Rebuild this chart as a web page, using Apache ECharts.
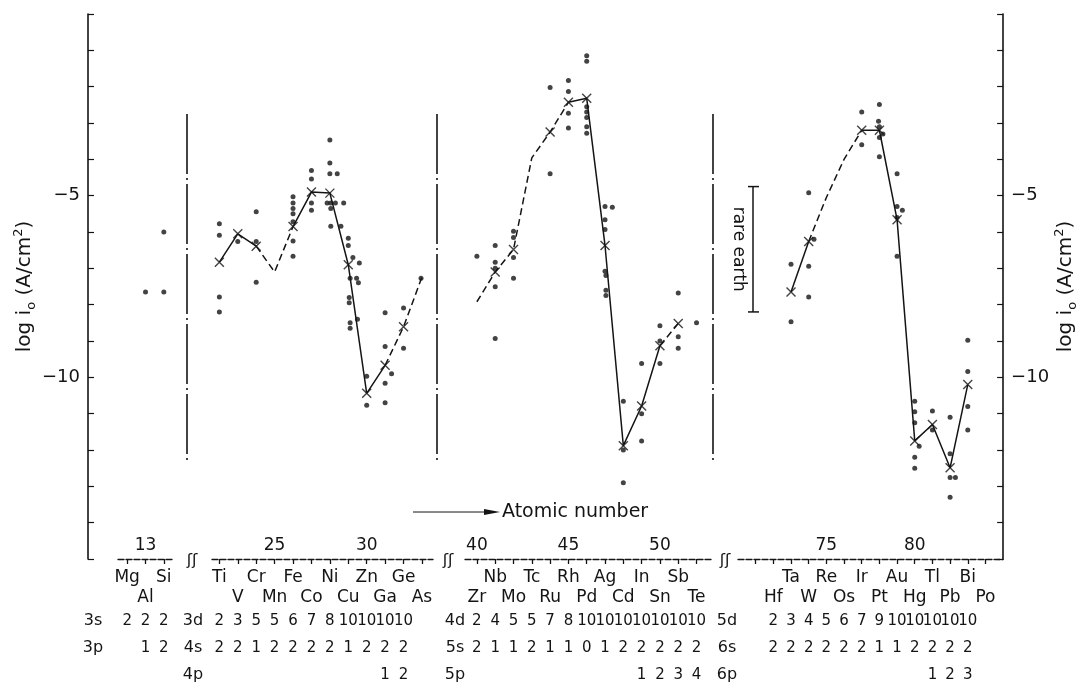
<!DOCTYPE html>
<html>
<head>
<meta charset="utf-8">
<title>log i0 vs atomic number</title>
<script src="https://cdn.jsdelivr.net/npm/echarts@6.0.0/dist/echarts.min.js"></script>
<style>
  html, body { margin: 0; background: #fff; }
  #chart { width: 1080px; height: 684px; }
</style>
</head>
<body>
<div id="chart"></div>
<script>
// ---- values ----

// period 3
const p3Z = [12, 13, 14]
const p3Names = ['Mg', 'Al', 'Si']
const p3Mean = [null, null, null]
const p3Marked = [0, 0, 0]
const p3Dashed = [0, 0]
const p3Dots = [[13, -7.65], [14, -7.65], [14, -6.0]]
const p3Config = [[2, 2, 2], [null, 1, 2]]            // 3s, 3p
const p3Ticks = [12, 13, 14]
const p3TickLabels = [13]

// period 4
const p4Z = [22, 23, 24, 25, 26, 27, 28, 29, 30, 31, 32, 33]
const p4Names = ['Ti', 'V', 'Cr', 'Mn', 'Fe', 'Co', 'Ni', 'Cu', 'Zn', 'Ga', 'Ge', 'As']
const p4Mean = [-6.83, -6.05, -6.39, -7.1, -5.85, -4.9, -4.93, -6.9, -10.44, -9.67, -8.61, -7.24]
const p4Marked = [1, 1, 1, 0, 1, 1, 1, 1, 1, 1, 1, 0]
const p4Dashed = [0, 0, 1, 1, 0, 0, 0, 0, 0, 1, 1]
const p4Dots = [
  [22, -5.77], [22, -6.09], [22, -7.79], [22, -8.2],
  [23, -6.26],
  [24, -5.44], [24, -6.26], [24, -7.38],
  [26, -5.03], [26, -5.2], [26, -5.35], [26, -5.5], [26, -5.72], [26, -6.25], [26, -6.67],
  [27, -4.31], [27, -4.54], [27, -5.2], [27, -5.4],
  [28, -3.47], [28, -4.1], [28, -4.4], [28.4, -4.4], [27.85, -5.2], [28.05, -5.2], [28.3, -5.2], [28.75, -5.2],
  [28.05, -5.35], [28.05, -5.84], [28.6, -5.84],
  [29, -6.17], [29, -6.37], [29.25, -6.7], [29.6, -6.85], [29.1, -7.27], [29.45, -7.27], [29.55, -7.4],
  [29.05, -7.8], [29.05, -7.95], [29.1, -8.5], [29.5, -8.4], [29.1, -8.65],
  [30, -9.97], [30, -10.77],
  [31, -8.22], [31, -9.15], [31.35, -9.9], [31, -10.16], [31, -10.7],
  [32, -8.09], [32, -9.2],
  [32.95, -7.27]
]
const p4Config = [
  [2, 3, 5, 5, 6, 7, 8, 10, 10, 10, 10, null],          // 3d
  [2, 2, 1, 2, 2, 2, 2, 1, 2, 2, 2, null],              // 4s
  [null, null, null, null, null, null, null, null, null, 1, 2, null]  // 4p
]
const p4Ticks = [22, 23, 24, 25, 26, 27, 28, 29, 30, 31, 32, 33]
const p4TickLabels = [25, 30]

// period 5
const p5Z = [40, 41, 42, 43, 44, 45, 46, 47, 48, 49, 50, 51, 52]
const p5Names = ['Zr', 'Nb', 'Mo', 'Tc', 'Ru', 'Rh', 'Pd', 'Ag', 'Cd', 'In', 'Sn', 'Sb', 'Te']
const p5Mean = [-7.92, -7.1, -6.48, -3.96, -3.25, -2.43, -2.32, -6.37, -11.88, -10.79, -9.13, -8.52, null]
const p5Marked = [0, 1, 1, 0, 1, 1, 1, 1, 1, 1, 1, 1, 0]
const p5Dashed = [1, 1, 1, 1, 1, 0, 0, 0, 0, 0, 1, 0]
const p5Dots = [
  [40, -6.67],
  [41, -6.37], [41, -6.83], [41, -7.0], [41, -7.51], [41, -8.93],
  [42, -5.98], [42, -6.15], [42, -6.7], [42, -7.27],
  [44, -2.02], [44, -4.4],
  [45, -1.83], [45, -2.13], [45, -2.73], [45, -3.14],
  [46, -1.15], [46, -1.3], [46, -2.55], [46, -2.7], [46, -2.85], [46, -3.1], [46, -3.28],
  [47, -5.3], [47.4, -5.32], [47, -5.66], [47, -5.93], [47, -7.08], [47.05, -7.2], [47.05, -7.6], [47.05, -7.75],
  [48, -10.66], [48, -12.0], [48, -12.9],
  [49, -9.62], [49, -11.0], [49, -11.75],
  [50, -8.58], [50, -9.0], [50, -9.62],
  [51, -7.68], [51, -8.88], [51, -9.2],
  [52, -8.5]
]
const p5Config = [
  [2, 4, 5, 5, 7, 8, 10, 10, 10, 10, 10, 10, 10],      // 4d
  [2, 1, 1, 2, 1, 1, 0, 1, 2, 2, 2, 2, 2],             // 5s
  [null, null, null, null, null, null, null, null, null, 1, 2, 3, 4]  // 5p
]
const p5Ticks = [40, 41, 42, 43, 44, 45, 46, 47, 48, 49, 50, 51, 52]
const p5TickLabels = [40, 45, 50]

// period 6
const p6Z = [72, 73, 74, 75, 76, 77, 78, 79, 80, 81, 82, 83, 84]
const p6Names = ['Hf', 'Ta', 'W', 'Re', 'Os', 'Ir', 'Pt', 'Au', 'Hg', 'Tl', 'Pb', 'Bi', 'Po']
const p6Mean = [null, -7.65, -6.26, -5.05, -4.0, -3.2, -3.2, -5.66, -11.75, -11.3, -12.49, -10.2, null]
const p6Marked = [0, 1, 1, 0, 0, 1, 1, 1, 1, 1, 1, 1, 0]
const p6Dashed = [0, 0, 1, 1, 1, 0, 0, 0, 0, 0, 0, 0]
const p6Dots = [
  [73, -6.89], [73, -8.47],
  [74, -4.92], [74.3, -6.2], [74, -6.94], [74, -7.79],
  [77, -2.7], [77, -3.6],
  [78, -2.49], [77.95, -2.95], [78, -3.1], [78.2, -3.3], [78, -3.4], [78, -3.93],
  [79, -4.4], [79, -5.3], [79.3, -5.4], [79, -5.6], [79, -6.67],
  [80, -10.66], [80, -10.95], [80, -11.25], [80.25, -11.9], [80, -12.2], [80, -12.5],
  [81, -10.93], [81, -11.45],
  [82, -11.1], [82, -12.1], [82, -12.76], [82.3, -12.76], [82, -13.3],
  [83, -8.98], [83, -9.84], [83, -10.8], [83, -11.45]
]
const p6Config = [
  [2, 3, 4, 5, 6, 7, 9, 10, 10, 10, 10, 10, null],     // 5d
  [2, 2, 2, 2, 2, 2, 1, 1, 2, 2, 2, 2, null],          // 6s
  [null, null, null, null, null, null, null, null, null, 1, 2, 3, null]  // 6p
]
const p6Ticks = [71, 72, 73, 74, 75, 76, 77, 78, 79, 80, 81, 82, 83, 84]
const p6TickLabels = [75, 80]

const configHeads = [['3s', '3p'], ['3d', '4s', '4p'], ['4d', '5s', '5p'], ['5d', '6s', '6p']]
const yTickLabels = [-5, -10]
const rareEarthRange = [-4.75, -8.2]

// ---- layout ----
const FONT = 'DejaVu Sans'
const INK = '#141414'
const GRID_TOP = 14
const GRID_H = 545
const segLayout = [
  {left: 118, width: 55, range: [11.5, 14.5], nameRow0: 0, headX: 93},
  {left: 212, width: 221, range: [21.6, 33.6], nameRow0: 0, headX: 193},
  {left: 465, width: 248, range: [39.35, 52.9], nameRow0: 1, headX: 455},
  {left: 738, width: 270, range: [70, 85], nameRow0: 1, headX: 727}
]
const nameRowY = [578, 598]
const configRowY = [621, 648, 675]

const segments = [
  {z: p3Z, names: p3Names, mean: p3Mean, marked: p3Marked, dashed: p3Dashed, dots: p3Dots, config: p3Config, ticks: p3Ticks, tickLabels: p3TickLabels},
  {z: p4Z, names: p4Names, mean: p4Mean, marked: p4Marked, dashed: p4Dashed, dots: p4Dots, config: p4Config, ticks: p4Ticks, tickLabels: p4TickLabels},
  {z: p5Z, names: p5Names, mean: p5Mean, marked: p5Marked, dashed: p5Dashed, dots: p5Dots, config: p5Config, ticks: p5Ticks, tickLabels: p5TickLabels},
  {z: p6Z, names: p6Names, mean: p6Mean, marked: p6Marked, dashed: p6Dashed, dots: p6Dots, config: p6Config, ticks: p6Ticks, tickLabels: p6TickLabels}
]

// split the mean curve into runs of solid / dashed links
function curveRuns (seg) {
  const runs = []
  for (let i = 0; i < seg.z.length - 1; i++) {
    const a = seg.mean[i]
    const b = seg.mean[i + 1]
    if (a == null || b == null) continue
    const dashed = seg.dashed[i] === 1
    const last = runs[runs.length - 1]
    if (last && last.dashed === dashed && last.end === i) {
      last.data.push([seg.z[i + 1], b])
      last.end = i + 1
    } else {
      runs.push({dashed, end: i + 1, data: [[seg.z[i], a], [seg.z[i + 1], b]]})
    }
  }
  return runs
}

const nameRich = {
  t: {fontFamily: FONT, fontSize: 20, color: INK, lineHeight: 26},
  s: {fontFamily: FONT, fontSize: 13, color: INK, lineHeight: 13, verticalAlign: 'bottom'},
  p: {fontFamily: FONT, fontSize: 13, color: INK, lineHeight: 13, verticalAlign: 'top'}
}
const axisName = '{t|log i}{s|o}{t| (A/cm}{p|2}{t|)}'

const series = []
segments.forEach((seg, s) => {
  series.push({
    type: 'scatter', xAxisIndex: s, yAxisIndex: s, silent: true,
    data: seg.dots, symbol: 'circle', symbolSize: 5,
    itemStyle: {color: INK}
  })
  curveRuns(seg).forEach(run => {
    series.push({
      type: 'line', xAxisIndex: s, yAxisIndex: s, silent: true,
      data: run.data, symbol: 'none',
      lineStyle: {color: INK, width: 1.5, type: run.dashed ? [7, 4] : 'solid'}
    })
  })
  const marks = seg.z.map((z, i) => seg.marked[i] ? [z, seg.mean[i]] : null).filter(Boolean)
  series.push({
    type: 'scatter', xAxisIndex: s, yAxisIndex: s, silent: true,
    data: marks, symbol: 'path://M0,0L10,10M10,0L0,10', symbolSize: 9,
    itemStyle: {color: 'none', borderColor: INK, borderWidth: 1.4}
  })
})

const chart = echarts.init(document.getElementById('chart'))

chart.setOption({
  animation: false,
  backgroundColor: '#fff',
  grid: segLayout.map(l => ({left: l.left, width: l.width, top: GRID_TOP, height: GRID_H, containLabel: false})),
  xAxis: segments.map((seg, s) => ({
    type: 'value', gridIndex: s,
    min: segLayout[s].range[0], max: segLayout[s].range[1],
    axisLine: {show: true, onZero: false, lineStyle: {color: INK, width: 1.3, type: [6, 2]}},
    axisTick: {show: true, inside: false, length: 5, customValues: seg.ticks, lineStyle: {color: INK, width: 1.3}},
    axisLabel: {show: true, inside: true, margin: 5, customValues: seg.tickLabels, fontFamily: FONT, fontSize: 17, color: INK},
    splitLine: {show: false}
  })),
  yAxis: segments.map((seg, s) => ({
    type: 'value', gridIndex: s, min: -15, max: 0, interval: 1,
    show: s === 0 || s === 3,
    position: s === 3 ? 'right' : 'left',
    offset: s === 0 ? segLayout[0].left - 88 : 0,
    axisLine: {show: true, onZero: false, lineStyle: {color: INK, width: 1.6}},
    axisTick: {show: true, inside: true, length: 6, lineStyle: {color: INK, width: 1.2}},
    axisLabel: {
      margin: 8, fontFamily: FONT, fontSize: 18, color: INK,
      formatter: v => yTickLabels.includes(v) ? '\u2212' + Math.abs(v) : ''
    },
    splitLine: {show: false},
    name: axisName, nameLocation: 'middle', nameRotate: 90, nameGap: s === 0 ? 44 : 42,
    nameTextStyle: {rich: nameRich}
  })),
  series
})

// ---- annotations placed through the axes ----
const px = (s, z) => chart.convertToPixel({xAxisIndex: s}, z)
const py = (s, v) => chart.convertToPixel({yAxisIndex: s}, v)
const graphic = []
const txt = (x, y, text, size, extra) => graphic.push({
  type: 'text', x, y, silent: true,
  style: Object.assign({text, font: size + 'px "' + FONT + '"', fill: INK, align: 'center', verticalAlign: 'middle'}, extra || {})
})

segments.forEach((seg, s) => {
  seg.names.forEach((n, i) => {
    txt(px(s, seg.z[i]), nameRowY[(i + segLayout[s].nameRow0) % 2], n, 17)
  })
  seg.config.forEach((row, r) => {
    txt(segLayout[s].headX, configRowY[r], configHeads[s][r], 16)
    row.forEach((v, i) => {
      if (v != null) txt(px(s, seg.z[i]), configRowY[r], String(v), 15)
    })
  })
})

// period separators
;[187, 437, 713].forEach(x => graphic.push({
  type: 'line', silent: true,
  shape: {x1: x, y1: py(0, -2.75), x2: x, y2: py(0, -12.3)},
  style: {stroke: INK, lineWidth: 1.6, lineDash: [60, 4, 2, 4]}
}))

// axis break marks
;[192, 448, 725].forEach(x => txt(x, 561, '\u0283\u0283', 16))

// atomic number arrow
graphic.push({type: 'line', silent: true, shape: {x1: 413, y1: 512, x2: 492, y2: 512}, style: {stroke: INK, lineWidth: 1}})
graphic.push({type: 'polygon', silent: true, shape: {points: [[484, 509], [500, 512], [484, 515]]}, style: {fill: INK}})
txt(502, 512, 'Atomic number', 19, {align: 'left'})

// rare earth range bar
const reTop = py(3, rareEarthRange[0])
const reBot = py(3, rareEarthRange[1])
graphic.push({type: 'line', silent: true, shape: {x1: 753, y1: reTop, x2: 753, y2: reBot}, style: {stroke: INK, lineWidth: 1.5}})
graphic.push({type: 'line', silent: true, shape: {x1: 748, y1: reTop, x2: 759, y2: reTop}, style: {stroke: INK, lineWidth: 1.5}})
graphic.push({type: 'line', silent: true, shape: {x1: 748, y1: reBot, x2: 759, y2: reBot}, style: {stroke: INK, lineWidth: 1.5}})
graphic.push({
  type: 'text', x: 738, y: (reTop + reBot) / 2, rotation: -Math.PI / 2, silent: true,
  style: {text: 'rare earth', font: '17px "' + FONT + '"', fill: INK, align: 'center', verticalAlign: 'middle'}
})

chart.setOption({graphic})
</script>
</body>
</html>
